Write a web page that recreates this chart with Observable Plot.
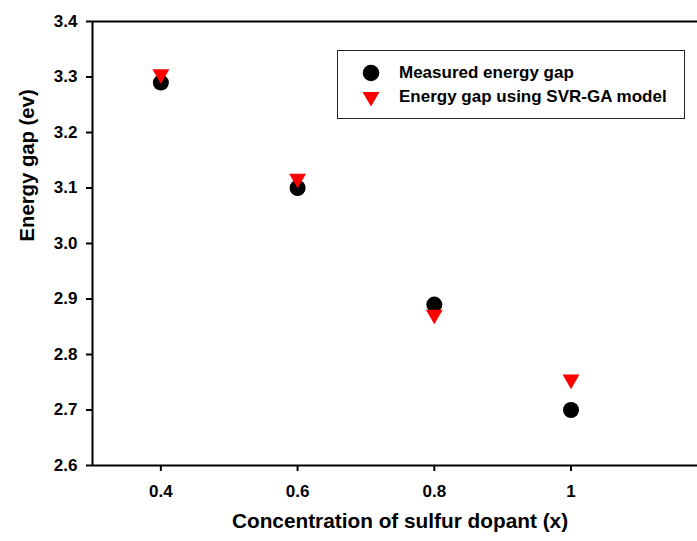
<!DOCTYPE html>
<html>
<head>
<meta charset="utf-8">
<script src="https://cdn.jsdelivr.net/npm/d3@7"></script>
<script src="https://cdn.jsdelivr.net/npm/@observablehq/plot@0.6"></script>
<style>
  html, body { margin: 0; padding: 0; background: #fff; overflow: hidden; }
  #wrap { position: relative; width: 697px; height: 541px; font-family: "Liberation Sans", Arial, sans-serif; }
  #wrap svg { display: block; }
  .legend { position: absolute; left: 337px; top: 50px; width: 348px; height: 69px; box-sizing: border-box;
            border: 1.5px solid #222; background: #fff; }
  .legend .row { position: absolute; left: 0; height: 24px; line-height: 24px; white-space: nowrap;
                 font-size: 17px; font-weight: bold; color: #000; }
  .legend .row svg { position: absolute; left: 22px; top: 2px; }
  .legend .row span { position: absolute; left: 61px; top: 0; }
</style>
</head>
<body>
<div id="wrap"></div>
<script>
// ---- data ----
const concentration = [0.4, 0.6, 0.8, 1.0];
const measuredGap = [3.29, 3.10, 2.89, 2.70];
const svrGaGap = [3.305, 3.117, 2.872, 2.755];
const seriesNames = ["Measured energy gap", "Energy gap using SVR-GA model"];
const xTicks = [0.4, 0.6, 0.8, 1.0];
const xTickLabels = ["0.4", "0.6", "0.8", "1"];
const yTicks = [2.6, 2.7, 2.8, 2.9, 3.0, 3.1, 3.2, 3.3, 3.4];
const yTickLabels = ["2.6", "2.7", "2.8", "2.9", "3.0", "3.1", "3.2", "3.3", "3.4"];
const xTitle = "Concentration of sulfur dopant (x)";
const yTitle = "Energy gap (ev)";

const measured = concentration.map((c, i) => ({x: c, y: measuredGap[i]}));
const model = concentration.map((c, i) => ({x: c, y: svrGaGap[i]}));

const xDomain = [0.3, 1.185];
const yDomain = [2.6, 3.4];

const chart = Plot.plot({
  width: 697,
  height: 541,
  marginLeft: 92,
  marginRight: 0,
  marginTop: 21,
  marginBottom: 76,
  style: {fontFamily: '"Liberation Sans", Arial, sans-serif', background: "#fff", color: "#000"},
  x: {domain: xDomain},
  y: {domain: yDomain},
  marks: [
    Plot.axisY({ticks: yTicks, tickFormat: (d) => yTickLabels[yTicks.indexOf(d)], tickSize: 6, tickPadding: 9,
                strokeWidth: 2, fontSize: 17, fontWeight: "bold", label: null}),
    Plot.axisX({ticks: xTicks, tickFormat: (d) => xTickLabels[xTicks.indexOf(d)], tickSize: 6, tickPadding: 13,
                strokeWidth: 2, fontSize: 17, fontWeight: "bold", label: null}),
    Plot.ruleX([xDomain[0]], {stroke: "#000", strokeWidth: 2}),
    Plot.ruleY([yDomain[0]], {stroke: "#000", strokeWidth: 2}),
    Plot.ruleY([yDomain[1]], {stroke: "#000", strokeWidth: 2}),
    Plot.dot(measured, {x: "x", y: "y", r: 8, fill: "#000", stroke: null}),
    Plot.dot(model, {x: "x", y: "y", symbol: "triangle", rotate: 180, r: 6.3, fill: "#ff0000", stroke: null}),
    Plot.text([xTitle], {text: (d) => d, frameAnchor: "bottom", dy: 62, dx: 5, fontSize: 20.8, fontWeight: "bold", fill: "#000"}),
    Plot.text([yTitle], {text: (d) => d, frameAnchor: "left", rotate: -90, dx: -65, dy: -2, fontSize: 20.3, fontWeight: "bold", fill: "#000"})
  ]
});

const wrap = document.getElementById("wrap");
wrap.appendChild(chart);

// legend
const legend = document.createElement("div");
legend.className = "legend";
const symbols = [
  '<svg width="22" height="20" viewBox="-11 -10 22 20"><circle r="8.3" fill="#000"/></svg>',
  '<svg width="22" height="20" viewBox="-11 -10 22 20"><path d="M-8.5,-5 L8.5,-5 L0,9.5 Z" fill="#ff0000"/></svg>'
];
seriesNames.forEach((name, i) => {
  const row = document.createElement("div");
  row.className = "row";
  row.style.top = (10 + i * 24) + "px";
  row.innerHTML = symbols[i] + "<span></span>";
  row.querySelector("span").textContent = name;
  legend.appendChild(row);
});
wrap.appendChild(legend);
</script>
</body>
</html>
